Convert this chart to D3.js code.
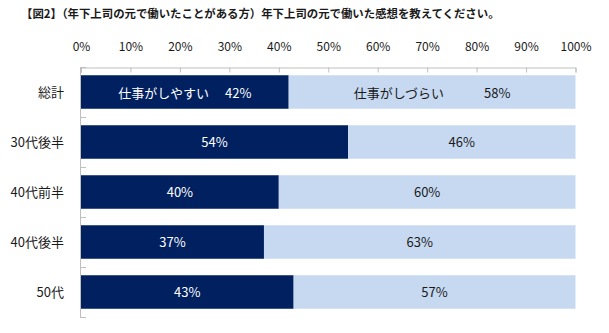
<!DOCTYPE html>
<html><head><meta charset="utf-8">
<script src="https://cdn.jsdelivr.net/npm/d3@7"></script>
<style>
body{margin:0;background:#fff;}
svg{display:block;font-family:"Noto Sans CJK JP","Noto Sans",sans-serif;}
</style></head>
<body>
<svg id="chart" width="609" height="333"></svg>
<script>
const title = "【図2】（年下上司の元で働いたことがある方）年下上司の元で働いた感想を教えてください。";
const categories = ["総計", "30代後半", "40代前半", "40代後半", "50代"];
const seriesNames = ["仕事がしやすい", "仕事がしづらい"];
const easyValues = [42, 54, 40, 37, 43];
const hardValues = [58, 46, 60, 63, 57];
const tickValues = [0, 10, 20, 30, 40, 50, 60, 70, 80, 90, 100];

const colors = ["#002060", "#C6D9F1"];
const textColors = ["#ffffff", "#1a1a1a"];

const svg = d3.select("#chart");

svg.append("text")
  .attr("x", 21).attr("y", 18)
  .attr("font-size", 11.4).attr("font-weight", "bold").attr("fill", "#1a1a1a")
  .text(title);

const x = d3.scaleLinear().domain([0, 100]).range([81, 575.5]);
const y = d3.scaleBand().domain(categories).range([67, 317]).paddingInner(0.33).paddingOuter(0.165);

// top axis
const xAxis = d3.axisTop(x).tickValues(tickValues).tickSize(-5).tickPadding(17).tickFormat(d => d + "%");
const gx = svg.append("g").attr("transform", "translate(0,67.5)").call(xAxis);
gx.select(".domain").attr("stroke", "#bfbfbf");
gx.selectAll(".tick line").attr("stroke", "#bfbfbf");
gx.selectAll(".tick text").attr("font-size", 12).attr("fill", "#1a1a1a")
  .attr("font-family", "'Noto Sans CJK JP','Noto Sans',sans-serif");

// left axis line and boundary ticks
svg.append("line").attr("x1", 80.5).attr("x2", 80.5).attr("y1", y.range()[0]).attr("y2", y.range()[1]+1)
  .attr("stroke", "#bfbfbf");
const bounds = categories.map(c => y(c) + y.bandwidth()/2 - y.step()/2).concat([y.range()[1]]);
svg.selectAll(".ytick").data(bounds).join("line")
  .attr("x1", 80.5).attr("x2", 86).attr("y1", d => Math.round(d)+0.5).attr("y2", d => Math.round(d)+0.5)
  .attr("stroke", "#bfbfbf");

// category labels
svg.selectAll(".cat").data(categories).join("text")
  .attr("x", 64).attr("y", d => y(d) + y.bandwidth()/2)
  .attr("dy", "0.35em").attr("text-anchor", "end")
  .attr("font-size", 13).attr("fill", "#1a1a1a")
  .text(d => d);

// stacked bars
const rows = categories.map((c, i) => ({cat: c, v: [easyValues[i], hardValues[i]]}));
rows.forEach((r, ri) => {
  let acc = 0;
  r.v.forEach((v, si) => {
    const x0 = acc, x1 = acc + v;
    acc = x1;
    svg.append("rect")
      .attr("x", x(x0)).attr("y", y(r.cat))
      .attr("width", x(x1) - x(x0)).attr("height", y.bandwidth())
      .attr("fill", colors[si]);
    const t = svg.append("text")
      .attr("x", (x(x0) + x(x1)) / 2).attr("y", y(r.cat) + y.bandwidth()/2)
      .attr("dy", "0.35em").attr("text-anchor", "middle")
      .attr("fill", textColors[si]);
    if (ri === 0) {
      t.append("tspan").attr("font-size", 13).text(seriesNames[si]);
      t.append("tspan").attr("font-size", 13).attr("dx", si === 0 ? 16 : 40).text(v + "%");
    } else {
      t.attr("font-size", 13).text(v + "%");
    }
  });
});
</script>
</body></html>
